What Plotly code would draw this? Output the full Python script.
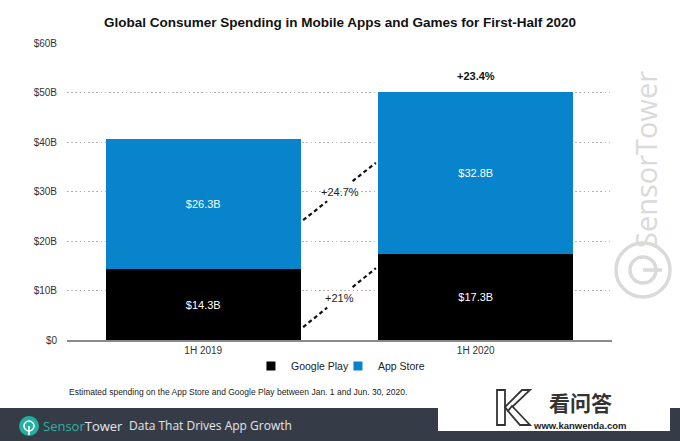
import plotly.graph_objects as go

W, H = 680, 441

# ---- data ----
categories = ["1H 2019", "1H 2020"]
google_play = [14.3, 17.3]
app_store = [26.3, 32.8]
growth_total = "+23.4%"
growth_app_store = "+24.7%"
growth_google_play = "+21%"
y_tickvals = [0, 10, 20, 30, 40, 50, 60]
y_ticktext = ["$0", "$10B", "$20B", "$30B", "$40B", "$50B", "$60B"]

BLUE = "#0784cb"
BLACK = "#000000"
FONT = "Liberation Sans"
BAR_W = 0.715


def px(x):
    return x / W


def py(y):
    return 1 - y / H


totals = [g + a for g, a in zip(google_play, app_store)]

fig = go.Figure()
fig.add_trace(go.Bar(
    x=categories, y=google_play, name="Google Play", width=BAR_W,
    marker=dict(color=BLACK, line=dict(width=0)),
    text=[f"${v}B" for v in google_play], textposition="inside",
    insidetextanchor="middle", textangle=0,
    insidetextfont=dict(color="white", size=11, family=FONT),
    hoverinfo="skip", showlegend=False, legendgroup="gp",
))
fig.add_trace(go.Bar(
    x=categories, y=app_store, name="App Store", width=BAR_W,
    marker=dict(color=BLUE, line=dict(width=0)),
    text=[f"${v}B" for v in app_store], textposition="inside",
    insidetextanchor="middle", textangle=0,
    insidetextfont=dict(color="white", size=11, family=FONT),
    hoverinfo="skip", showlegend=False, legendgroup="as",
))
# legend entries with small square swatches
for name, col, grp in [("Google Play", BLACK, "gp"), ("App Store", BLUE, "as")]:
    fig.add_trace(go.Scatter(
        x=[None], y=[None], mode="markers", name=name, legendgroup=grp,
        marker=dict(symbol="square", size=9, color=col, line=dict(width=0)),
        hoverinfo="skip",
    ))

shapes = []
annotations = []

# growth connectors (dashed, broken around the label)
x0c = 0 + BAR_W / 2 + 0.009
x1c = 1 - BAR_W / 2 - 0.009
connectors = [
    (24.2, 35.8, growth_app_store),
    (2.6, 14.5, growth_google_play),
]
for ya, yb, lab in connectors:
    for t0, t1 in [(0.0, 0.33), (0.68, 1.0)]:
        shapes.append(dict(
            type="line", xref="x", yref="y",
            x0=x0c + (x1c - x0c) * t0, x1=x0c + (x1c - x0c) * t1,
            y0=ya + (yb - ya) * t0, y1=ya + (yb - ya) * t1,
            line=dict(color="#111", width=2.2, dash="4px,3px"),
        ))
    annotations.append(dict(
        x=(x0c + x1c) / 2, y=(ya + yb) / 2, xref="x", yref="y",
        text=lab, showarrow=False,
        font=dict(family=FONT, size=11, color="#222"),
    ))

annotations.append(dict(
    x=1, y=totals[1] + 3.2, xref="x", yref="y", text=f"<b>{growth_total}</b>",
    showarrow=False, font=dict(family=FONT, size=11, color="#111"),
))

# footnote
annotations.append(dict(
    x=px(67), y=py(392), xref="paper", yref="paper", xanchor="left", yanchor="middle",
    text="Estimated spending on the App Store and Google Play between Jan. 1 and Jun. 30, 2020.",
    showarrow=False, font=dict(family=FONT, size=8.5, color="#222"),
))

# footer band
shapes.append(dict(type="rect", xref="paper", yref="paper", x0=0, x1=1,
                   y0=py(441), y1=py(408), fillcolor="#363c47", line=dict(width=0), layer="above"))
# footer logo
shapes.append(dict(type="circle", xref="paper", yref="paper", x0=px(19), x1=px(39),
                   y0=py(436), y1=py(416), fillcolor="#22b0a0", line=dict(width=0), layer="above"))
shapes.append(dict(type="circle", xref="paper", yref="paper", x0=px(24), x1=px(34),
                   y0=py(431), y1=py(421), fillcolor="rgba(0,0,0,0)",
                   line=dict(color="white", width=1.6), layer="above"))
shapes.append(dict(type="line", xref="paper", yref="paper", x0=px(29), x1=px(29),
                   y0=py(426), y1=py(435), line=dict(color="white", width=1.6), layer="above"))
annotations.append(dict(
    x=px(41), y=py(425.5), xref="paper", yref="paper", xanchor="left", yanchor="middle",
    text="<span style='color:#2ab3a2'>Sensor</span>Tower", showarrow=False,
    font=dict(family="Open Sans", size=13, color="#e6e6e6"),
))
annotations.append(dict(
    x=px(127), y=py(425.5), xref="paper", yref="paper", xanchor="left", yanchor="middle",
    text="Data That Drives App Growth", showarrow=False,
    font=dict(family="Open Sans", size=12, color="#e6e6e6"),
))

# kanwenda watermark box
shapes.append(dict(type="rect", xref="paper", yref="paper", x0=px(438), x1=px(670),
                   y0=py(431), y1=py(398), fillcolor="white", line=dict(width=0), layer="above"))
shapes.append(dict(type="path", xref="paper", yref="paper",
                   path="M {} {} L {} {} L {} {} L {} {} Z".format(
                       px(497), py(390), px(505), py(390), px(505), py(425), px(497), py(425)),
                   fillcolor="white", line=dict(color="#333", width=1.8), layer="above"))
shapes.append(dict(type="path", xref="paper", yref="paper",
                   path="M {} {} L {} {} L {} {} L {} {} Z".format(
                       px(505), py(407), px(522), py(390), px(530), py(390), px(508), py(411)),
                   fillcolor="white", line=dict(color="#333", width=1.8), layer="above"))
shapes.append(dict(type="path", xref="paper", yref="paper",
                   path="M {} {} L {} {} L {} {} L {} {} Z".format(
                       px(508), py(411), px(520), py(425), px(530), py(425), px(512), py(406)),
                   fillcolor="white", line=dict(color="#333", width=1.8), layer="above"))
annotations.append(dict(
    x=px(580), y=py(402), xref="paper", yref="paper", xanchor="center", yanchor="middle",
    text="<b>看问答</b>", showarrow=False,
    font=dict(family="Noto Sans CJK SC", size=21, color="#333"),
))
annotations.append(dict(
    x=px(580), y=py(425), xref="paper", yref="paper", xanchor="center", yanchor="middle",
    text="<b>www.kanwenda.com</b>", showarrow=False,
    font=dict(family="Liberation Sans", size=9.5, color="#222"),
))

# vertical SensorTower watermark
annotations.append(dict(
    x=px(645), y=py(160), xref="paper", yref="paper", xanchor="center", yanchor="middle",
    text="SensorTower", textangle=-90, showarrow=False,
    font=dict(family="Open Sans", size=29, color="#dadada"),
))
shapes.append(dict(type="circle", xref="paper", yref="paper", x0=px(616), x1=px(670),
                   y0=py(297), y1=py(243), fillcolor="rgba(0,0,0,0)",
                   line=dict(color="#dadada", width=3.5), layer="below"))
shapes.append(dict(type="circle", xref="paper", yref="paper", x0=px(630), x1=px(656),
                   y0=py(283), y1=py(257), fillcolor="rgba(0,0,0,0)",
                   line=dict(color="#dadada", width=3.5), layer="below"))
shapes.append(dict(type="line", xref="paper", yref="paper", x0=px(643), x1=px(662),
                   y0=py(270), y1=py(270), line=dict(color="#dadada", width=3.5), layer="below"))

fig.update_layout(
    width=W, height=H,
    margin=dict(l=0, r=0, t=0, b=0, pad=0),
    paper_bgcolor="white", plot_bgcolor="rgba(0,0,0,0)",
    barmode="stack",
    title=dict(text="<b>Global Consumer Spending in Mobile Apps and Games for First-Half 2020</b>",
               x=0.5, xanchor="center", y=py(22), yanchor="middle", yref="container",
               xref="container",
               font=dict(family=FONT, size=13.5, color="#111")),
    xaxis=dict(domain=[px(67), px(612)], range=[-0.5, 1.5], type="category",
               showgrid=False, showline=True, linecolor="#8a8a8a", linewidth=1.5,
               ticks="", tickfont=dict(family=FONT, size=10, color="#333"),
               fixedrange=True, automargin=False),
    yaxis=dict(domain=[py(340), py(43)], range=[0, 60], tickvals=y_tickvals,
               ticktext=y_ticktext, showgrid=True, gridcolor="#b4b4b4", griddash="1.5px,2.7px",
               gridwidth=1, zeroline=False, showline=False, ticks="",
               ticklabelstandoff=9, automargin=False,
               tickfont=dict(family=FONT, size=10, color="#333"), fixedrange=True),
    legend=dict(orientation="h", x=0.497, xanchor="center", y=py(366), yanchor="middle",
                font=dict(family=FONT, size=10.5, color="#222"), itemwidth=30,
                entrywidth=42, entrywidthmode="pixels",
                traceorder="normal", bgcolor="rgba(0,0,0,0)"),
    shapes=shapes, annotations=annotations,
    showlegend=True,
)

fig.write_html(
    "out.html",
    config={"displayModeBar": False},
    post_script="document.body.style.margin='0';document.body.style.padding='0';",
)
